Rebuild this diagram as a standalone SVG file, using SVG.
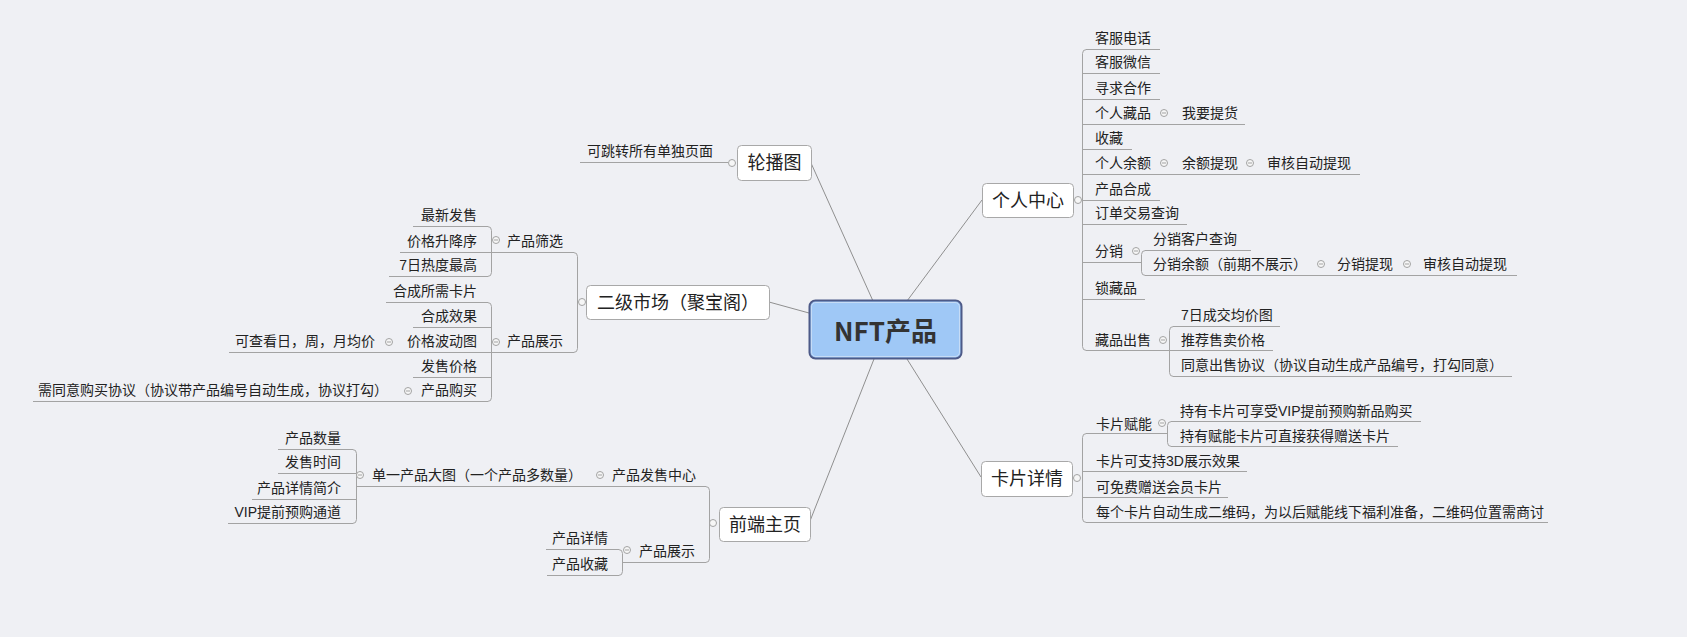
<svg xmlns="http://www.w3.org/2000/svg" width="1687" height="637" viewBox="0 0 1687 637">
<defs>
<style>
.t{font-family:"Liberation Sans","Noto Sans CJK SC",sans-serif;font-size:14px;fill:#222}
.e{text-anchor:end}
.m{font-family:"Liberation Sans","Noto Sans CJK SC",sans-serif;font-size:18px;fill:#222;text-anchor:middle}
.box{fill:#fff;stroke:#a8a8a8;stroke-width:1}
.ln{stroke:#a3a3a3;stroke-width:1;fill:none}
.cn{stroke:#8f8f8f;stroke-width:1;fill:none}
.dot{fill:#f6f6f6;stroke:#a3a3a3;stroke-width:1}
</style>
<g id="tg"><circle r="3.5" class="dot"/><line x1="-2" y1="0" x2="2" y2="0" stroke="#a3a3a3"/></g>
<circle id="pd" r="3.5" class="dot"/>
</defs>
<rect width="1687" height="637" fill="#eff0f4"/>

<g id="connectors">
<line class="cn" x1="811" y1="163" x2="873" y2="301"/>
<line class="cn" x1="982" y1="200" x2="907" y2="301"/>
<line class="cn" x1="769" y1="302" x2="809" y2="313"/>
<line class="cn" x1="981" y1="477" x2="907" y2="359"/>
<line class="cn" x1="810" y1="521" x2="874" y2="359"/>
</g>

<g id="center">
<rect x="809.5" y="300.5" width="152" height="58" rx="6" fill="#9fc8f6" stroke="#4d5a88" stroke-width="2"/>
<rect x="811.5" y="302.5" width="148" height="54" rx="4.5" fill="none" stroke="#c6dcf6"/>
<text x="885.5" y="341" text-anchor="middle" font-family="'Noto Sans CJK SC',sans-serif" font-size="26" font-weight="bold" fill="#333">NFT产品</text>
</g>

<g id="lunbo">
<rect class="box" x="737.5" y="145.5" width="74" height="35" rx="4"/>
<text class="m" x="774.5" y="169">轮播图</text>
<line class="ln" x1="728" y1="162.5" x2="580" y2="162.5"/>
<use href="#pd" x="732" y="163"/>
<text class="t e" x="713" y="156">可跳转所有单独页面</text>
</g>

<g id="geren">
<rect class="box" x="982.5" y="183.5" width="91" height="34" rx="4"/>
<text class="m" x="1028" y="206.5">个人中心</text>
<path class="ln" d="M1086.5,49.5 Q1082.5,49.5 1082.5,53.5 V346.5 Q1082.5,350.5 1086.5,350.5"/>
<use href="#pd" x="1078" y="200"/>
<line class="ln" x1="1086" y1="49.5" x2="1160" y2="49.5"/>
<line class="ln" x1="1082" y1="73.5" x2="1160" y2="73.5"/>
<line class="ln" x1="1082" y1="99.5" x2="1160" y2="99.5"/>
<line class="ln" x1="1082" y1="124.5" x2="1245" y2="124.5"/>
<line class="ln" x1="1082" y1="149.5" x2="1132" y2="149.5"/>
<line class="ln" x1="1082" y1="174.5" x2="1360" y2="174.5"/>
<line class="ln" x1="1082" y1="200.5" x2="1160" y2="200.5"/>
<line class="ln" x1="1082" y1="224.5" x2="1187" y2="224.5"/>
<line class="ln" x1="1082" y1="262.5" x2="1141" y2="262.5"/>
<line class="ln" x1="1082" y1="299.5" x2="1145" y2="299.5"/>
<line class="ln" x1="1086" y1="350.5" x2="1273" y2="350.5"/>
<path class="ln" d="M1145.5,250.5 Q1141.5,250.5 1141.5,254.5 V271.5 Q1141.5,275.5 1145.5,275.5"/>
<line class="ln" x1="1145" y1="250.5" x2="1251" y2="250.5"/>
<line class="ln" x1="1145" y1="275.5" x2="1517" y2="275.5"/>
<path class="ln" d="M1173.5,326.5 Q1169.5,326.5 1169.5,330.5 V372.5 Q1169.5,376.5 1173.5,376.5"/>
<line class="ln" x1="1173" y1="326.5" x2="1280" y2="326.5"/>
<line class="ln" x1="1173" y1="376.5" x2="1512" y2="376.5"/>
<text class="t" x="1095" y="43">客服电话</text>
<text class="t" x="1095" y="67">客服微信</text>
<text class="t" x="1095" y="93">寻求合作</text>
<text class="t" x="1095" y="118">个人藏品</text>
<use href="#tg" x="1164" y="113"/>
<text class="t" x="1182" y="118">我要提货</text>
<text class="t" x="1095" y="143">收藏</text>
<text class="t" x="1095" y="168">个人余额</text>
<use href="#tg" x="1164" y="163"/>
<text class="t" x="1182" y="168">余额提现</text>
<use href="#tg" x="1250" y="163"/>
<text class="t" x="1267" y="168">审核自动提现</text>
<text class="t" x="1095" y="194">产品合成</text>
<text class="t" x="1095" y="218">订单交易查询</text>
<text class="t" x="1095" y="256">分销</text>
<use href="#tg" x="1136" y="251"/>
<text class="t" x="1153" y="244">分销客户查询</text>
<text class="t" x="1153" y="269">分销余额（前期不展示）</text>
<use href="#tg" x="1321" y="264"/>
<text class="t" x="1337" y="269">分销提现</text>
<use href="#tg" x="1407" y="264"/>
<text class="t" x="1423" y="269">审核自动提现</text>
<text class="t" x="1095" y="293">锁藏品</text>
<text class="t" x="1095" y="345">藏品出售</text>
<use href="#tg" x="1163" y="340"/>
<text class="t" x="1181" y="320">7日成交均价图</text>
<text class="t" x="1181" y="345">推荐售卖价格</text>
<text class="t" x="1181" y="370">同意出售协议（协议自动生成产品编号，打勾同意）</text>
</g>

<g id="kapian">
<rect class="box" x="981.5" y="461.5" width="91" height="35" rx="4"/>
<text class="m" x="1027" y="485">卡片详情</text>
<use href="#pd" x="1077" y="478"/>
<path class="ln" d="M1086.5,433.5 Q1082.5,433.5 1082.5,437.5 V518.5 Q1082.5,522.5 1086.5,522.5"/>
<line class="ln" x1="1086" y1="433.5" x2="1167" y2="433.5"/>
<line class="ln" x1="1082" y1="471.5" x2="1247" y2="471.5"/>
<line class="ln" x1="1082" y1="497.5" x2="1228" y2="497.5"/>
<line class="ln" x1="1086" y1="522.5" x2="1548" y2="522.5"/>
<path class="ln" d="M1171.5,421.5 Q1167.5,421.5 1167.5,425.5 V442.5 Q1167.5,446.5 1171.5,446.5"/>
<line class="ln" x1="1171" y1="421.5" x2="1421" y2="421.5"/>
<line class="ln" x1="1171" y1="446.5" x2="1398" y2="446.5"/>
<text class="t" x="1096" y="428.5">卡片赋能</text>
<use href="#tg" x="1162" y="423"/>
<text class="t" x="1180" y="416">持有卡片可享受VIP提前预购新品购买</text>
<text class="t" x="1180" y="440.5">持有赋能卡片可直接获得赠送卡片</text>
<text class="t" x="1096" y="466">卡片可支持3D展示效果</text>
<text class="t" x="1096" y="492">可免费赠送会员卡片</text>
<text class="t" x="1096" y="516.5">每个卡片自动生成二维码，为以后赋能线下福利准备，二维码位置需商讨</text>
</g>

<g id="erji">
<rect class="box" x="586.5" y="285.5" width="183" height="34" rx="4"/>
<text class="m" x="678" y="308.5">二级市场（聚宝阁）</text>
<use href="#pd" x="582" y="302"/>
<path class="ln" d="M573.5,252.5 Q577.5,252.5 577.5,256.5 V348.5 Q577.5,352.5 573.5,352.5"/>
<line class="ln" x1="574" y1="252.5" x2="400" y2="252.5"/>
<line class="ln" x1="574" y1="352.5" x2="229" y2="352.5"/>
<path class="ln" d="M487.5,226.5 Q491.5,226.5 491.5,230.5 V272.5 Q491.5,276.5 487.5,276.5"/>
<line class="ln" x1="488" y1="226.5" x2="413" y2="226.5"/>
<line class="ln" x1="488" y1="276.5" x2="389" y2="276.5"/>
<path class="ln" d="M487.5,302.5 Q491.5,302.5 491.5,306.5 V397.5 Q491.5,401.5 487.5,401.5"/>
<line class="ln" x1="488" y1="302.5" x2="386" y2="302.5"/>
<line class="ln" x1="491" y1="327.5" x2="413" y2="327.5"/>
<line class="ln" x1="491" y1="377.5" x2="413" y2="377.5"/>
<line class="ln" x1="488" y1="401.5" x2="33" y2="401.5"/>
<text class="t" x="507" y="246">产品筛选</text>
<use href="#tg" x="496" y="240"/>
<text class="t e" x="477" y="220">最新发售</text>
<text class="t e" x="477" y="246">价格升降序</text>
<text class="t e" x="477" y="270">7日热度最高</text>
<text class="t" x="507" y="346">产品展示</text>
<use href="#tg" x="496" y="342"/>
<text class="t e" x="477" y="296">合成所需卡片</text>
<text class="t e" x="477" y="321">合成效果</text>
<text class="t e" x="477" y="346">价格波动图</text>
<use href="#tg" x="389" y="342"/>
<text class="t e" x="375" y="346">可查看日，周，月均价</text>
<text class="t e" x="477" y="371">发售价格</text>
<text class="t e" x="477" y="395">产品购买</text>
<use href="#tg" x="408" y="391"/>
<text class="t e" x="388" y="395">需同意购买协议（协议带产品编号自动生成，协议打勾）</text>
</g>

<g id="qianduan">
<rect class="box" x="719.5" y="507.5" width="91" height="34" rx="4"/>
<text class="m" x="765" y="530.5">前端主页</text>
<use href="#pd" x="713" y="523"/>
<path class="ln" d="M705.5,486.5 Q709.5,486.5 709.5,490.5 V558.5 Q709.5,562.5 705.5,562.5"/>
<line class="ln" x1="706" y1="486.5" x2="356" y2="486.5"/>
<line class="ln" x1="706" y1="562.5" x2="622" y2="562.5"/>
<path class="ln" d="M352.5,449.5 Q356.5,449.5 356.5,453.5 V519.5 Q356.5,523.5 352.5,523.5"/>
<line class="ln" x1="353" y1="449.5" x2="278" y2="449.5"/>
<line class="ln" x1="356" y1="473.5" x2="278" y2="473.5"/>
<line class="ln" x1="356" y1="499.5" x2="252" y2="499.5"/>
<line class="ln" x1="353" y1="523.5" x2="228" y2="523.5"/>
<path class="ln" d="M618.5,549.5 Q622.5,549.5 622.5,553.5 V571.5 Q622.5,575.5 618.5,575.5"/>
<line class="ln" x1="619" y1="549.5" x2="546" y2="549.5"/>
<line class="ln" x1="619" y1="575.5" x2="547" y2="575.5"/>
<text class="t" x="612" y="480">产品发售中心</text>
<use href="#tg" x="600" y="475"/>
<text class="t" x="372" y="480">单一产品大图（一个产品多数量）</text>
<use href="#tg" x="360" y="475"/>
<text class="t e" x="341" y="443">产品数量</text>
<text class="t e" x="341" y="467">发售时间</text>
<text class="t e" x="341" y="493">产品详情简介</text>
<text class="t e" x="341" y="517">VIP提前预购通道</text>
<text class="t" x="639" y="556">产品展示</text>
<use href="#tg" x="627" y="550"/>
<text class="t e" x="608" y="543">产品详情</text>
<text class="t e" x="608" y="569">产品收藏</text>
</g>
</svg>
